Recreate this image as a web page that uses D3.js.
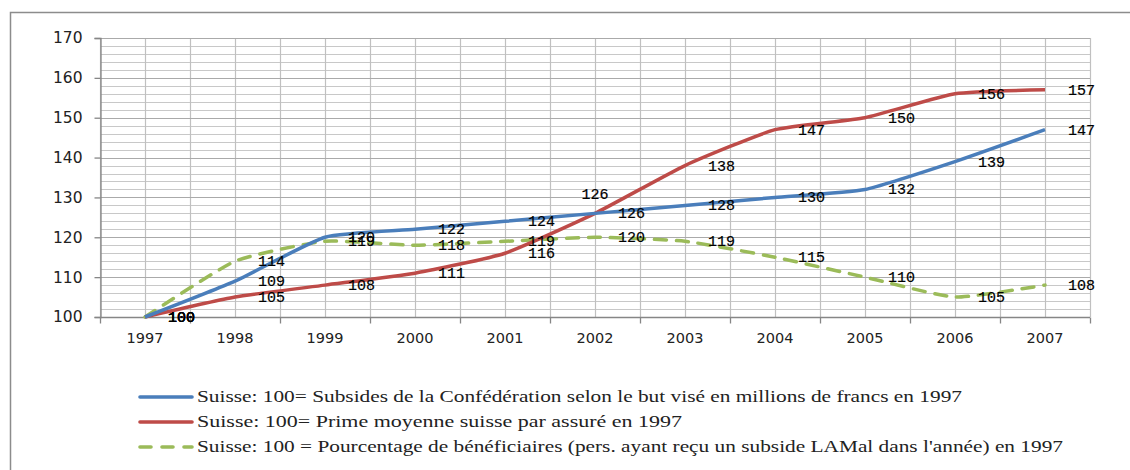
<!DOCTYPE html>
<html><head><meta charset="utf-8">
<script src="https://cdn.jsdelivr.net/npm/d3@7/dist/d3.min.js"></script>
<style>
html,body{margin:0;padding:0;background:#fff;}
svg{display:block;}
</style></head>
<body>
<svg id="chart" width="1130" height="470"></svg>
<script>
const years = ["1997","1998","1999","2000","2001","2002","2003","2004","2005","2006","2007"];
const subsides = [100,109,120,122,124,126,128,130,132,139,147];
const prime = [100,105,108,111,116,126,138,147,150,156,157];
const beneficiaires = [100,114,119,118,119,120,119,115,110,105,108];
const yTicks = [100,110,120,130,140,150,160,170];
const seriesNames = [
  "Suisse: 100= Subsides de la Confédération selon le but visé en millions de francs en 1997",
  "Suisse: 100= Prime moyenne suisse par assuré en 1997",
  "Suisse: 100 = Pourcentage de bénéficiaires (pers. ayant reçu un subside LAMal dans l'année) en 1997"
];

const svg = d3.select("#chart");
const L = 100, R = 1090, T = 38, B = 317;

svg.append("path").attr("d", "M10.5,470 V12.5 H1130")
  .attr("fill","none").attr("stroke","#8c8c8c").attr("stroke-width",1.5);

const x = d3.scalePoint().domain(years).range([L, R]).padding(0.5);
const y = d3.scaleLinear().domain([100,170]).range([B, T]);
const step = x.step();

const grid = svg.append("g");
d3.range(102,170,2).forEach(v => {
  if (v % 10 === 0) return;
  grid.append("line").attr("x1",L).attr("x2",R).attr("y1",Math.round(y(v))+0.5).attr("y2",Math.round(y(v))+0.5)
    .attr("stroke","#c8c8c8").attr("stroke-width",1);
});
const vlines = [];
years.forEach(d => { vlines.push(x(d) - step/2); vlines.push(x(d)); });
vlines.push(R);
vlines.forEach(v => {
  grid.append("line").attr("x1",Math.round(v)+0.5).attr("x2",Math.round(v)+0.5).attr("y1",T).attr("y2",B)
    .attr("stroke","#c0c0c0").attr("stroke-width",1.2);
});
yTicks.forEach(v => {
  grid.append("line").attr("x1",L).attr("x2",R).attr("y1",Math.round(y(v))+0.5).attr("y2",Math.round(y(v))+0.5)
    .attr("stroke","#aaaaaa").attr("stroke-width",1.2);
});

const yAxis = svg.append("g").attr("transform",`translate(${L+0.5},0)`)
  .call(d3.axisLeft(y).tickValues(yTicks).tickSize(6).tickPadding(12));
yAxis.select(".domain").attr("stroke","#868686").attr("stroke-width",1.3);
yAxis.selectAll(".tick line").attr("stroke","#868686").attr("stroke-width",1.3);
yAxis.selectAll("text").attr("font-family","DejaVu Sans, Verdana, sans-serif").attr("font-size",15.5).attr("fill","#222");

const xg = svg.append("g").attr("transform",`translate(0,${B+0.5})`);
xg.append("line").attr("x1",L).attr("x2",R).attr("stroke","#868686").attr("stroke-width",1.3);
const boundaries = years.map(d => x(d) - step/2).concat([R]);
xg.selectAll("line.tk").data(boundaries).join("line").attr("class","tk")
  .attr("x1",d=>Math.round(d)+0.5).attr("x2",d=>Math.round(d)+0.5).attr("y1",0).attr("y2",6)
  .attr("stroke","#868686").attr("stroke-width",1.3);
xg.selectAll("text").data(years).join("text")
  .attr("x",d=>x(d)).attr("y",25).attr("text-anchor","middle")
  .attr("font-family","DejaVu Sans, Verdana, sans-serif").attr("font-size",14.5).attr("fill","#222")
  .text(d=>d);

const series = [
  {name: seriesNames[0], values: subsides, color:"#4a7ebb", dash:null},
  {name: seriesNames[1], values: prime, color:"#be4b48", dash:null},
  {name: seriesNames[2], values: beneficiaires, color:"#9bbb59", dash:"12,10"}
];
const line = d3.line().x((d,i)=>x(years[i])).y(d=>y(d)).curve(d3.curveCardinal.tension(0.5));

[2,1,0].forEach(k => {
  const s = series[k];
  svg.append("path").datum(s.values).attr("d",line)
    .attr("fill","none").attr("stroke",s.color).attr("stroke-width",3.5)
    .attr("stroke-dasharray",s.dash).attr("stroke-linecap", s.dash ? "round" : "butt")
    .attr("stroke-linejoin","round");
});

const lbl = svg.append("g").attr("font-family","Liberation Mono, Courier New, monospace")
  .attr("font-size",15).attr("fill","#000").attr("stroke","#000").attr("stroke-width",0.2);
series.forEach((s,k) => {
  s.values.forEach((v,i) => {
    let lx = x(years[i]) + 23, ly = y(v) + 5, anchor = "start";
    if (k === 1 && years[i] === "2002") { lx = x(years[i]) - 0; ly = y(v) - 14; anchor = "middle"; }
    lbl.append("text").attr("x",lx).attr("y",ly).attr("text-anchor",anchor).text(v);
  });
});

const legY = [397, 422, 447];
const legendWidths = [765, 485, 866];
series.forEach((s,k) => {
  const g = svg.append("g");
  g.append("line").attr("x1",140).attr("x2",192).attr("y1",legY[k]).attr("y2",legY[k])
    .attr("stroke",s.color).attr("stroke-width",3.6).attr("stroke-linecap","round")
    .attr("stroke-dasharray", s.dash ? "11,11" : null);
  g.append("text").attr("x",197).attr("y",legY[k]+5)
    .attr("font-family","Liberation Serif, Times New Roman, serif").attr("font-size",16.5).attr("fill","#222")
    .attr("textLength",legendWidths[k]).attr("lengthAdjust","spacingAndGlyphs")
    .text(s.name);
});
</script>
</body></html>
